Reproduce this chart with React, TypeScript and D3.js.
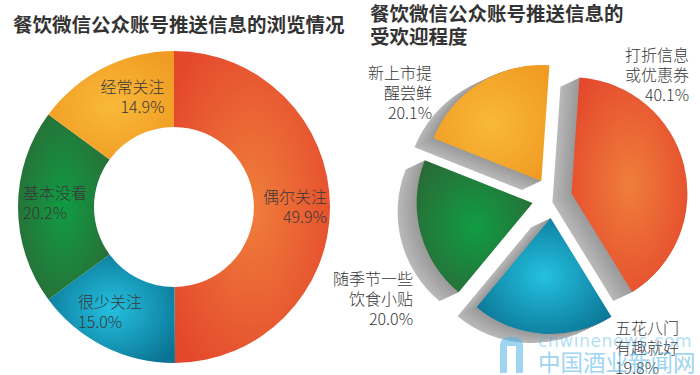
import React, { useEffect } from "react";
import * as d3 from "d3";

const W = 700;
const H = 375;

// 左图：浏览情况
const viewCategories = ["偶尔关注", "很少关注", "基本没看", "经常关注"];
const viewValues = [49.9, 15.0, 20.2, 14.9];

// 右图：受欢迎程度
const likeCategories = [
  ["打折信息", "或优惠券"],
  ["五花八门", "有趣就好"],
  ["随季节一些", "饮食小贴"],
  ["新上市提", "醒尝鲜"],
];
const likeValues = [40.1, 19.8, 20.0, 20.1];

// [center, edge] for each slice, same order in both charts
const sliceColors = [
  ["#f07e3b", "#e4482c"],
  ["#25c0e0", "#0a7393"],
  ["#109c43", "#2a6a36"],
  ["#f8b93a", "#f09b22"],
];

const font = "'Noto Sans CJK SC', 'Noto Sans', sans-serif";
const fmt = (v: number) => d3.format(".1f")(v) + "%";

// label placement: radius along the slice middle, then a nudge
const viewLabelLayout = [
  { r: 153, anchor: "end", dx: 0, dy: 0 },
  { r: 118, anchor: "start", dx: -43, dy: 0 },
  { r: 151, anchor: "start", dx: 0, dy: -4 },
  { r: 123, anchor: "end", dx: 46, dy: 0 },
];

const likeLabelLayout = [
  { x: 689, y: 61, anchor: "end" },
  { x: 615, y: 334, anchor: "start" },
  { x: 413, y: 285, anchor: "end" },
  { x: 432, y: 79, anchor: "end" },
];

const Gradients = ({ prefix }: { prefix: string }) => (
  <>
    {sliceColors.map((c, i) => (
      <radialGradient key={i} id={`${prefix}${i}`} cx="50%" cy="50%" r="62%">
        <stop offset="0%" stopColor={c[0]} />
        <stop offset="100%" stopColor={c[1]} />
      </radialGradient>
    ))}
  </>
);

const Donut = () => {
  const cx = 174;
  const cy = 207;
  const pie = d3.pie<number>().sort(null).value((d) => d)(viewValues);
  const arc = d3.arc<d3.PieArcDatum<number>>().innerRadius(80).outerRadius(156);
  return (
    <g>
      <text x={13} y={32} fontSize={19.5} fontWeight={700} fill="#333" fontFamily={font}>
        餐饮微信公众账号推送信息的浏览情况
      </text>
      <g transform={`translate(${cx},${cy})`}>
        {pie.map((p, i) => (
          <path key={i} d={arc(p) || ""} fill={`url(#vg${i})`} />
        ))}
      </g>
      {pie.map((p, i) => {
        const L = viewLabelLayout[i];
        const mid = (p.startAngle + p.endAngle) / 2;
        const x = cx + L.r * Math.sin(mid) + L.dx;
        const y = cy - L.r * Math.cos(mid) + L.dy;
        return (
          <text key={i} x={x} textAnchor={L.anchor} fontSize={16} fontWeight={300} fill="#383838" fontFamily={font}>
            <tspan x={x} y={y - 4}>{viewCategories[i]}</tspan>
            <tspan x={x} y={y + 16}>{fmt(viewValues[i])}</tspan>
          </text>
        );
      })}
    </g>
  );
};

const ExplodedPie = () => {
  const cx = 552;
  const cy = 198;
  const start = (4 * Math.PI) / 180;
  const explode = 20;
  const depth = [-19, 9];
  const steps = 24;
  const pie = d3
    .pie<number>()
    .sort(null)
    .value((d) => d)
    .startAngle(start)
    .endAngle(start + 2 * Math.PI)(likeValues);
  const arc = d3.arc<d3.PieArcDatum<number>>().innerRadius(0).outerRadius(116);
  const shade = d3.interpolateRgb("#999999", "#b9b9b9");

  const offsets = pie.map((p) => {
    const mid = (p.startAngle + p.endAngle) / 2;
    return [explode * Math.sin(mid), -explode * Math.cos(mid)];
  });

  return (
    <g>
      <text fontSize={19.5} fontWeight={700} fill="#333" fontFamily={font}>
        <tspan x={370} y={21}>餐饮微信公众账号推送信息的</tspan>
        <tspan x={370} y={44}>受欢迎程度</tspan>
      </text>
      <g transform={`translate(${cx},${cy})`}>
        {/* gray side walls */}
        {pie.map((p, i) =>
          d3.range(steps, 0, -1).map((k) => {
            const t = k / steps;
            return (
              <path
                key={`${i}-${k}`}
                d={arc(p) || ""}
                fill={shade(t)}
                transform={`translate(${offsets[i][0] + depth[0] * t},${offsets[i][1] + depth[1] * t})`}
              />
            );
          })
        )}
        {pie.map((p, i) => (
          <path
            key={i}
            d={arc(p) || ""}
            fill={`url(#lg${i})`}
            transform={`translate(${offsets[i][0]},${offsets[i][1]})`}
          />
        ))}
      </g>
      {likeLabelLayout.map((L, i) => {
        const lines = [...likeCategories[i], fmt(likeValues[i])];
        return (
          <text key={i} textAnchor={L.anchor} fontSize={16} fontWeight={300} fill="#383838" fontFamily={font}>
            {lines.map((s, j) => (
              <tspan key={j} x={L.x} y={L.y + j * 20}>
                {s}
              </tspan>
            ))}
          </text>
        );
      })}
    </g>
  );
};

const Watermark = () => (
  <g opacity={0.55} fill="#4fb3e6">
    <path d="M500,373 V346 Q500,337 509,337 H514 Q523,337 523,346 V373 H516 V346 H507 V373 Z" />
    <text x={538} y={347} fontSize={17} letterSpacing={0.6} fontFamily="'DejaVu Sans', sans-serif" opacity={0.75}>
      cnwinenews.com
    </text>
    <text x={538} y={371} fontSize={22.5} fontFamily={font}>
      中国酒业新闻网
    </text>
  </g>
);

export default function App() {
  useEffect(() => {
    document.body.style.margin = "0";
  }, []);
  return (
    <div style={{ position: "absolute", left: 0, top: 0 }}>
      <svg width={W} height={H} style={{ display: "block", background: "#fff" }}>
        <defs>
          <Gradients prefix="vg" />
          <Gradients prefix="lg" />
        </defs>
        <Donut />
        <ExplodedPie />
        <Watermark />
      </svg>
    </div>
  );
}
